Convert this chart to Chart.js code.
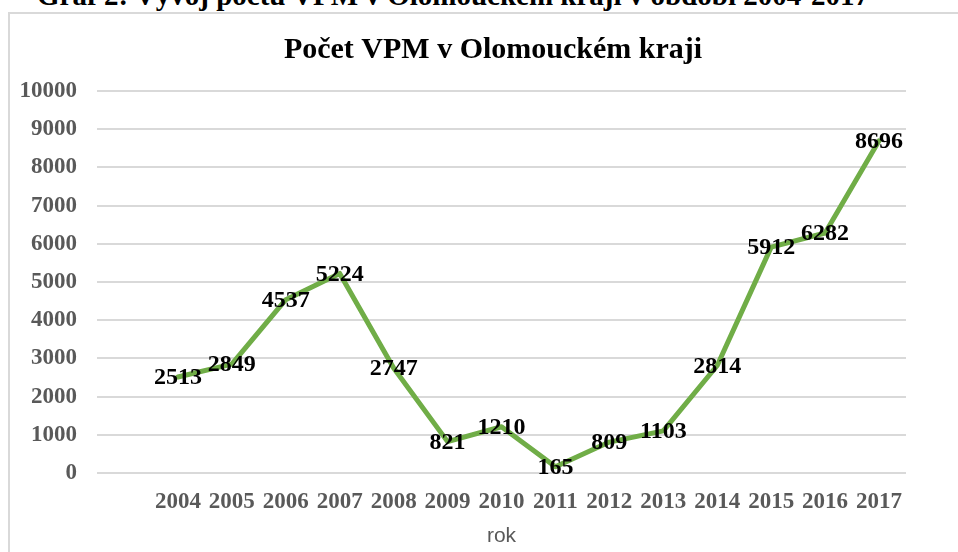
<!DOCTYPE html>
<html>
<head>
<meta charset="utf-8">
<script src="https://cdn.jsdelivr.net/npm/chart.js@4.4.0/dist/chart.umd.min.js"></script>
<style>
  html, body { margin: 0; padding: 0; background: #ffffff; }
  body { width: 958px; height: 552px; position: relative; overflow: hidden; }
  #heading {
    position: absolute; left: 0; width: 906px; top: -20px;
    text-align: center; font-family: "Liberation Serif", "Times New Roman", serif;
    font-weight: bold; font-size: 29px; line-height: 30px; color: #000; white-space: nowrap;
  }
  #frame {
    position: absolute; left: 8px; top: 12px; width: 1200px; height: 800px;
    border: 2px solid #d9d9d9; box-sizing: border-box;
  }
  #wrap { position: absolute; left: 0; top: 0; width: 958px; height: 552px; }
</style>
</head>
<body>
<div id="heading">Graf 2: Vývoj počtu VPM v Olomouckém kraji v období 2004-2017</div>
<div id="frame"></div>
<div id="wrap"><canvas id="c" width="958" height="552"></canvas></div>
<script>
// Data (first category is an empty slot, as in the original chart)
const categories = ['', '2004', '2005', '2006', '2007', '2008', '2009', '2010', '2011', '2012', '2013', '2014', '2015', '2016', '2017'];
const counts = [null, 2513, 2849, 4537, 5224, 2747, 821, 1210, 165, 809, 1103, 2814, 5912, 6282, 8696];
const yTicks = [0, 1000, 2000, 3000, 4000, 5000, 6000, 7000, 8000, 9000, 10000];
const chartTitle = 'Počet VPM v Olomouckém kraji';
const xAxisTitle = 'rok';

const SERIF = '"Liberation Serif", "Times New Roman", serif';

const titlePlugin = {
  id: 'customTitle',
  afterDraw(chart) {
    const ctx = chart.ctx;
    ctx.save();
    ctx.font = 'bold 30px ' + SERIF;
    ctx.fillStyle = '#000000';
    ctx.textAlign = 'center';
    ctx.textBaseline = 'middle';
    ctx.fillText(chartTitle, 493, 50);
    ctx.restore();
  }
};

const labelPlugin = {
  id: 'pointLabels',
  afterDatasetsDraw(chart) {
    const ctx = chart.ctx;
    const meta = chart.getDatasetMeta(0);
    ctx.save();
    ctx.font = 'bold 24px ' + SERIF;
    ctx.fillStyle = '#000000';
    ctx.textAlign = 'center';
    ctx.textBaseline = 'middle';
    meta.data.forEach((pt, i) => {
      const v = counts[i];
      if (v === null || v === undefined) return;
      ctx.fillText(String(v), pt.x, pt.y + 1);
    });
    ctx.restore();
  }
};

new Chart(document.getElementById('c'), {
  type: 'line',
  data: {
    labels: categories,
    datasets: [{
      data: counts,
      borderColor: '#70AD47',
      borderWidth: 5,
      borderJoinStyle: 'round',
      borderCapStyle: 'round',
      pointRadius: 0,
      pointHoverRadius: 0,
      tension: 0,
      fill: false,
      spanGaps: false
    }]
  },
  options: {
    responsive: false,
    animation: false,
    devicePixelRatio: 1,
    layout: { padding: { left: 17, right: 52, top: 91, bottom: 0 } },
    plugins: {
      legend: { display: false },
      tooltip: { enabled: false },
      title: { display: false }
    },
    scales: {
      x: {
        type: 'category',
        offset: true,
        grid: { display: false, drawTicks: false },
        border: { display: false },
        ticks: {
          color: '#595959',
          font: { family: SERIF, size: 23, weight: 'bold' },
          padding: 15,
          maxRotation: 0,
          autoSkip: false
        },
        title: {
          display: true,
          text: xAxisTitle,
          color: '#595959',
          font: { family: '"Liberation Sans", Arial, sans-serif', size: 21 },
          padding: { top: 0, bottom: 3 }
        },
        afterFit(scale) { scale.height = 79; }
      },
      y: {
        min: 0,
        max: 10000,
        afterBuildTicks(scale) { scale.ticks = yTicks.map(v => ({ value: v })); },
        grid: { color: '#d9d9d9', lineWidth: 2, drawTicks: false },
        border: { display: false },
        ticks: {
          color: '#595959',
          font: { family: SERIF, size: 23, weight: 'bold' },
          padding: 20,
          callback: (v) => String(v)
        },
        afterFit(scale) { scale.width = 80; }
      }
    }
  },
  plugins: [titlePlugin, labelPlugin]
});
</script>
</body>
</html>
